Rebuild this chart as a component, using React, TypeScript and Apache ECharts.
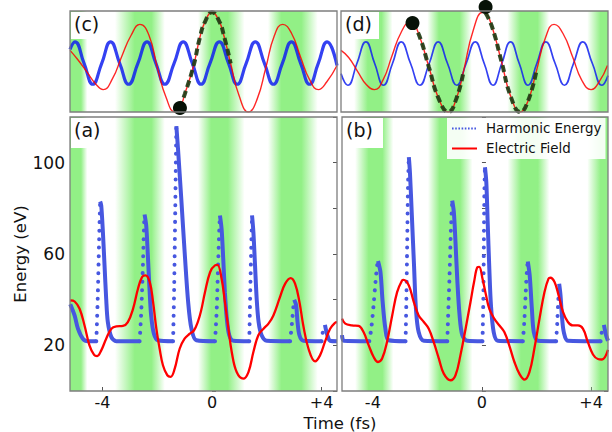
import React, { useEffect, useRef } from 'react';
import * as echarts from 'echarts';

type Pt = [number, number];

// ---------- axis ranges ----------
const timeRangeLeft: Pt = [-5.18, 4.56];
const timeRangeRight: Pt = [-5.13, 4.62];
const energyRange: Pt = [0, 120];
const topRange: Pt = [0, 100];
const timeTicks = [-4, 0, 4];
const energyLabelValues = [20, 60, 100];

// ---------- green bands: [start, fullStart, fullEnd, end] (fs) ----------
const bandsLeft: number[][] = [
  [-5.18, -5.18, -4.78, -4.55],
  [-3.54, -2.82, -2.21, -1.72],
  [-0.51, -0.03, 0.58, 1.19],
  [2.04, 2.53, 3.26, 3.86],
];
const bandsRight: number[][] = [
  [-4.65, -4.15, -3.65, -3.25],
  [-1.98, -1.55, -0.8, -0.35],
  [0.94, 1.43, 2.05, 2.47],
  [3.86, 4.35, 4.62, 4.62],
];

// ---------- panel (c) ----------
const blueC: Pt[] = [[-5.18,62],[-5.0,69.5],[-4.67,48.5],[-4.35,27.5],[-4.02,48.5],[-3.7,69.5],[-3.37,48.5],[-3.04,27.5],[-2.7,48.5],[-2.37,69.5],[-2.05,48.5],[-1.72,27.5],[-1.38,48.5],[-1.05,69.5],[-0.72,48.5],[-0.4,27.5],[-0.07,48.5],[0.27,69.5],[0.6,48.5],[0.92,27.5],[1.25,48.5],[1.58,69.5],[1.91,48.5],[2.24,27.5],[2.57,48.5],[2.9,69.5],[3.23,48.5],[3.56,27.5],[3.88,48.5],[4.2,69.5],[4.56,46]];
const redC: Pt[] = [[-5.18,61],[-4.9,52],[-4.57,40],[-4.25,28],[-3.97,22.2],[-3.63,33],[-3.3,54.5],[-2.95,76],[-2.63,86.8],[-2.3,76],[-1.99,43.4],[-1.67,14],[-1.35,0],[-1.17,4],[-0.99,18],[-0.68,45],[-0.44,74],[-0.26,89],[0,98.7],[0.26,90],[0.44,75],[0.68,48],[0.99,16],[1.33,0],[1.65,13],[1.96,43.4],[2.28,76],[2.58,86.8],[2.9,78],[3.23,54.5],[3.56,32],[3.88,22.2],[4.19,30],[4.56,46]];
const dashC: Pt[] = [[-1.17,4],[-0.99,18],[-0.68,45],[-0.44,74],[-0.26,89],[0,98.7],[0.26,90],[0.44,75],[0.68,48]];
const circlesC: Pt[] = [[-1.17,4]];

// ---------- panel (d) ----------
const blueD: Pt[] = [[-5.13,38],[-4.88,26.5],[-4.55,48],[-4.22,69.5],[-3.9,48],[-3.58,26.5],[-3.25,48],[-2.93,69.5],[-2.59,48],[-2.25,26.5],[-1.91,48],[-1.58,69.5],[-1.24,48],[-0.9,26.5],[-0.56,48],[-0.23,69.5],[0.1,48],[0.42,26.5],[0.74,48],[1.06,69.5],[1.38,48],[1.7,26.5],[2.02,48],[2.35,69.5],[2.69,48],[3.03,26.5],[3.36,48],[3.7,69.5],[4.05,48],[4.4,26.5],[4.62,36]];
const redD: Pt[] = [[-5.13,61],[-4.85,54],[-4.52,40],[-4.2,27],[-3.91,22.2],[-3.59,32],[-3.27,55.5],[-2.94,78.5],[-2.62,88.4],[-2.52,88],[-2.27,75.5],[-1.92,44.5],[-1.56,13],[-1.21,0],[-0.92,13],[-0.65,41],[-0.3,81],[0.05,98.7],[0.15,98],[0.39,84],[0.73,50],[1.08,14.5],[1.42,0],[1.7,11],[2.0,40],[2.33,73],[2.65,86.8],[2.99,77],[3.33,54.5],[3.66,31.6],[4.0,22.2],[4.3,30],[4.6,46]];
const dashD1: Pt[] = [[-2.52,88],[-2.27,75.5],[-1.92,44.5],[-1.56,13],[-1.21,0],[-0.92,13],[-0.65,41]];
const dashD2: Pt[] = [[0.15,98],[0.39,84],[0.73,50],[1.08,14.5],[1.42,0],[1.7,11],[2.0,40]];
const circlesD: Pt[] = [[-2.52,88],[0.15,104]];

// ---------- panel (a) ----------
const harmDenseA: Pt[][] = [
  [[-5.17,38],[-5.01,33],[-4.89,27.3],[-4.71,22.9],[-4.53,21.8],[-4.22,21.8]],
  [[-4.08,83],[-4.04,81.2],[-3.98,69.6],[-3.92,55],[-3.86,40.4],[-3.8,30.2],[-3.67,23.6],[-3.49,21.8],[-2.64,21.8]],
  [[-2.46,77.3],[-2.4,72.5],[-2.34,59.4],[-2.28,44.8],[-2.22,33.1],[-2.12,25.1],[-1.97,22.2],[-1.42,21.8]],
  [[-1.3,116],[-1.24,106],[-1.12,84],[-0.99,59.4],[-0.87,39],[-0.75,27.3],[-0.57,22.2],[0.11,21.8]],
  [[0.29,76.9],[0.35,71],[0.41,57.9],[0.47,43.3],[0.54,31.7],[0.63,24.4],[0.78,22],[1.36,21.8]],
  [[1.46,76.9],[1.51,69.6],[1.57,55],[1.63,40.4],[1.7,30.2],[1.81,24.4],[2.0,22],[2.85,21.8]],
  [[3.0,40],[3.07,37.5],[3.12,30.2],[3.19,24.4],[3.33,22],[4.0,21.8]],
  [[4.12,29],[4.21,24.4],[4.31,22],[4.56,21.8]],
];
const harmRiseA: Pt[][] = [
  [[-4.22,21.8],[-4.17,40],[-4.12,65],[-4.08,83]],
  [[-2.64,21.8],[-2.58,35],[-2.52,55],[-2.48,72],[-2.46,77.3]],
  [[-1.42,21.8],[-1.38,45],[-1.34,80],[-1.31,108],[-1.3,116]],
  [[0.11,21.8],[0.17,35],[0.23,58],[0.27,72],[0.29,76.9]],
  [[1.36,21.8],[1.39,40],[1.43,62],[1.46,76.9]],
  [[2.85,21.8],[2.92,30],[2.97,37],[3.0,40]],
  [[4.0,21.8],[4.06,27],[4.12,29]],
];
const fieldA: Pt[] = [[-5.17,39.7],[-5.01,39.2],[-4.83,36],[-4.65,28.7],[-4.47,20],[-4.3,15.8],[-4.19,15.3],[-4.04,17.8],[-3.86,22.9],[-3.67,27.3],[-3.49,28.3],[-3.25,28.5],[-3.07,30.2],[-2.88,36],[-2.7,44.8],[-2.55,49.9],[-2.43,50.6],[-2.27,47.7],[-2.15,39],[-2.03,27.3],[-1.91,18.5],[-1.79,11.3],[-1.63,6.9],[-1.51,6.2],[-1.36,9.8],[-1.18,18.5],[-1.0,22.9],[-0.81,25.1],[-0.66,26.5],[-0.51,30.5],[-0.4,35],[-0.26,43],[-0.07,52],[0.11,55],[0.2,55.2],[0.35,49.2],[0.47,39],[0.6,27.3],[0.72,17.1],[0.9,8.3],[1.14,5.4],[1.33,8.3],[1.51,17.1],[1.69,24.4],[1.88,27.3],[2.06,29.5],[2.24,33.1],[2.48,41.1],[2.67,47],[2.87,49.4],[3.03,47],[3.19,39],[3.33,28.7],[3.52,18.5],[3.76,13],[3.94,15.6],[4.12,21.5],[4.31,27.3],[4.49,29.9],[4.56,30.2]];

// ---------- panel (b) ----------
const harmDenseB: Pt[][] = [
  [[-5.13,24.5],[-5.06,22],[-4.13,21.8]],
  [[-3.81,56.9],[-3.72,52],[-3.64,39],[-3.54,27.3],[-3.42,22.2],[-2.8,21.8]],
  [[-2.68,102.4],[-2.64,95.8],[-2.57,76.9],[-2.49,55],[-2.42,36],[-2.32,25.8],[-2.13,22],[-1.27,21.8]],
  [[-1.09,83.4],[-1.03,78.3],[-0.97,65.2],[-0.9,47.7],[-0.82,33.1],[-0.72,24.4],[-0.54,22],[0.02,21.8]],
  [[0.11,98],[0.16,91.4],[0.21,73.9],[0.27,53.5],[0.33,37.5],[0.43,25.8],[0.58,22],[1.5,21.8]],
  [[1.68,56.7],[1.75,50.6],[1.83,36],[1.9,25.8],[2.05,22],[2.72,21.8]],
  [[2.83,47],[2.88,41.9],[2.93,33.1],[3.0,25.8],[3.15,22],[4.35,21.8]],
  [[4.47,29],[4.55,24.4],[4.62,22]],
];
const harmRiseB: Pt[][] = [
  [[-4.13,21.8],[-4.05,28],[-3.97,38],[-3.9,48],[-3.84,55],[-3.81,56.9]],
  [[-2.8,21.8],[-2.77,40],[-2.74,65],[-2.71,90],[-2.68,102.4]],
  [[-1.27,21.8],[-1.24,33],[-1.19,50],[-1.14,70],[-1.09,83.4]],
  [[0.02,21.8],[0.05,40],[0.07,65],[0.09,88],[0.11,98]],
  [[1.5,21.8],[1.55,30],[1.6,42],[1.65,53],[1.68,56.7]],
  [[2.72,21.8],[2.76,30],[2.8,40],[2.83,47]],
  [[4.35,21.8],[4.41,27],[4.47,29]],
];
const fieldB: Pt[] = [[-5.13,31.7],[-5.01,29.5],[-4.77,28.7],[-4.52,28.5],[-4.34,25.8],[-4.15,20],[-3.97,14.9],[-3.81,12.7],[-3.66,14.2],[-3.48,21.5],[-3.29,33.1],[-3.11,43.3],[-2.93,48.4],[-2.87,48.7],[-2.68,46.2],[-2.5,39],[-2.32,33.1],[-2.13,30.2],[-1.95,27.3],[-1.77,21.5],[-1.58,14.2],[-1.4,7.6],[-1.15,4.7],[-0.97,6.9],[-0.79,15.6],[-0.6,27.3],[-0.42,39],[-0.29,47.7],[-0.16,54.3],[-0.1,54.4],[0.02,49.2],[0.15,41.9],[0.27,36],[0.45,31.7],[0.64,28.7],[0.82,25.8],[1.0,20],[1.19,12.7],[1.37,7.6],[1.56,5],[1.74,8.3],[1.92,18.5],[2.11,31.7],[2.29,43.3],[2.44,49.2],[2.51,49.6],[2.66,47.7],[2.81,41.9],[2.97,34.6],[3.15,30.2],[3.33,28.7],[3.52,28.7],[3.7,27.3],[3.88,21.5],[4.07,16],[4.25,14],[4.4,13.8],[4.62,18]];

// ---------- layout & style ----------
const FONT = '"DejaVu Sans", sans-serif';
const gridC = { left: 70, top: 11, width: 267, height: 101 };
const gridD = { left: 341, top: 11, width: 267, height: 101 };
const gridA = { left: 70, top: 117, width: 267, height: 274 };
const gridB = { left: 342, top: 117, width: 266, height: 274 };
const GREEN = [146, 240, 134];
const BLUE_H = '#4757e0';
const BLUE_T = '#1020f0';
const RED = '#ff0000';
const DASH = '#1f3d16';

function flatten(segs: Pt[][]): (number | null)[][] {
  const out: (number | null)[][] = [];
  segs.forEach((s, i) => {
    if (i > 0) out.push([s[0][0], null]);
    s.forEach((p) => out.push(p));
  });
  return out;
}

function bandArea(bands: number[][]) {
  const full = `rgba(${GREEN[0]},${GREEN[1]},${GREEN[2]},1)`;
  const clear = `rgba(${GREEN[0]},${GREEN[1]},${GREEN[2]},0)`;
  return {
    silent: true,
    data: bands.map((b) => {
      const w = b[3] - b[0];
      const f1 = (b[1] - b[0]) / w;
      const f2 = (b[2] - b[0]) / w;
      return [
        {
          xAxis: b[0],
          itemStyle: {
            opacity: 1,
            color: new echarts.graphic.LinearGradient(0, 0, 1, 0, [
              { offset: 0, color: f1 === 0 ? full : clear },
              { offset: f1, color: full },
              { offset: f2, color: full },
              { offset: 1, color: f2 === 1 ? full : clear },
            ]),
          },
        },
        { xAxis: b[3] },
      ];
    }),
  };
}

function timeAxis(grid: number, range: Pt, shown: boolean) {
  return {
    type: 'value',
    gridIndex: grid,
    min: range[0],
    max: range[1],
    show: shown,
    axisLine: { show: false },
    splitLine: { show: false },
    axisTick: { show: shown, inside: true, length: 4, customValues: timeTicks, lineStyle: { color: '#555', width: 1 } },
    axisLabel: {
      show: shown,
      customValues: timeTicks,
      formatter: (v: number) => (v > 0 ? '+' + v : String(v)),
      fontSize: 16,
      fontFamily: FONT,
      color: '#111',
      margin: 3,
    },
  };
}

function energyAxis(grid: number, position: string, labels: boolean, withName: boolean) {
  return {
    type: 'value',
    gridIndex: grid,
    position,
    min: energyRange[0],
    max: energyRange[1],
    interval: 20,
    axisLine: { show: false },
    splitLine: { show: false },
    axisTick: { inside: true, length: 4, lineStyle: { color: '#555', width: 1 } },
    axisLabel: {
      show: labels,
      formatter: (v: number) => (energyLabelValues.includes(v) ? String(v) : ''),
      fontSize: 17,
      fontFamily: FONT,
      color: '#111',
      margin: 5,
    },
    name: withName ? 'Energy (eV)' : '',
    nameLocation: 'middle',
    nameGap: 35,
    nameTextStyle: { fontSize: 16.5, fontFamily: FONT, color: '#111' },
  };
}

function topSeries(xi: number, blue: Pt[], red: Pt[], dashes: Pt[][], circles: Pt[], bands: number[][], blueWidth: number) {
  const s: any[] = [
    {
      type: 'line', xAxisIndex: xi, yAxisIndex: xi, data: blue, smooth: 0.5, symbol: 'none', silent: true,
      lineStyle: { color: BLUE_T, width: blueWidth, opacity: 0.85 }, z: 3,
    },
    {
      type: 'line', xAxisIndex: xi, yAxisIndex: xi, data: red, smooth: 0.5, symbol: 'none', silent: true,
      lineStyle: { color: RED, width: 1.4, opacity: 0.85 }, z: 4, markArea: bandArea(bands),
    },
  ];
  dashes.forEach((d) => s.push({
    type: 'line', xAxisIndex: xi, yAxisIndex: xi, data: d, smooth: 0.5, symbol: 'none', silent: true,
    lineStyle: { color: DASH, width: 4, type: [7, 4], opacity: 0.92 }, z: 5,
  }));
  s.push({
    type: 'scatter', xAxisIndex: xi, yAxisIndex: xi, data: circles, symbolSize: 14, silent: true, clip: false,
    itemStyle: { color: '#071207', opacity: 1 }, z: 6,
  });
  return s;
}

function bottomSeries(xi: number, yi: number, dense: Pt[][], rise: Pt[][], field: Pt[], bands: number[][]) {
  return [
    {
      name: 'Harmonic Energy', type: 'line', xAxisIndex: xi, yAxisIndex: yi, data: flatten(dense),
      smooth: 0.3, symbol: 'none', connectNulls: false, silent: true,
      lineStyle: { color: BLUE_H, width: 4 }, z: 3,
    },
    {
      name: 'Harmonic Energy', type: 'line', xAxisIndex: xi, yAxisIndex: yi, data: flatten(rise),
      smooth: 0.3, symbol: 'none', connectNulls: false, silent: true,
      lineStyle: { color: BLUE_H, width: 4, type: [0.01, 8.5], cap: 'round' }, z: 3,
    },
    {
      name: 'Electric Field', type: 'line', xAxisIndex: xi, yAxisIndex: yi, data: field,
      smooth: 0.4, symbol: 'none', silent: true,
      lineStyle: { color: RED, width: 2.3 }, z: 4, markArea: bandArea(bands),
    },
  ];
}

function frame(g: { left: number; top: number; width: number; height: number }) {
  return {
    type: 'rect', silent: true, z: 100,
    shape: { x: g.left, y: g.top, width: g.width, height: g.height },
    style: { fill: 'none', stroke: '#7d7d7d', lineWidth: 1.3 },
  };
}

function panelLabel(text: string, g: { left: number; top: number }, w: number, h: number) {
  return [
    {
      type: 'rect', silent: true, z: 101,
      shape: { x: g.left + 1, y: g.top + 1, width: w, height: h },
      style: { fill: '#ffffff', stroke: 'none' },
    },
    {
      type: 'text', silent: true, z: 102, x: g.left + 4, y: g.top + 3,
      style: { text, font: `19px ${FONT}`, fill: '#111', align: 'left', verticalAlign: 'top', textAlign: 'left', textVerticalAlign: 'top' },
    },
  ];
}

export default function App() {
  const ref = useRef<HTMLDivElement>(null);
  useEffect(() => {
    if (!ref.current) return;
    const chart = echarts.init(ref.current, undefined, { renderer: 'svg' });
    const option: any = {
      animation: false,
      backgroundColor: '#ffffff',
      grid: [gridC, gridD, gridA, gridB].map((g) => ({ ...g, show: false })),
      xAxis: [
        timeAxis(0, timeRangeLeft, false),
        timeAxis(1, timeRangeRight, false),
        timeAxis(2, timeRangeLeft, true),
        timeAxis(3, timeRangeRight, true),
      ],
      yAxis: [
        { type: 'value', gridIndex: 0, min: topRange[0], max: topRange[1], show: false, splitLine: { show: false } },
        { type: 'value', gridIndex: 1, min: topRange[0], max: topRange[1], show: false, splitLine: { show: false } },
        energyAxis(2, 'left', true, true),
        energyAxis(2, 'right', false, false),
        energyAxis(3, 'left', false, false),
        energyAxis(3, 'right', false, false),
      ],
      legend: {
        orient: 'vertical', left: 447, top: 118, itemWidth: 25, itemHeight: 14, itemGap: 7,
        backgroundColor: 'rgba(255,255,255,0.9)', borderWidth: 0, padding: [4, 4, 4, 4],
        selectedMode: false, z: 50,
        textStyle: { fontSize: 13.4, fontFamily: FONT, color: '#111', padding: [0, 0, 0, 4] },
        data: [
          { name: 'Harmonic Energy', itemStyle: { opacity: 0 }, lineStyle: { color: BLUE_H, width: 2, type: [1.6, 1.6] } },
          { name: 'Electric Field', itemStyle: { opacity: 0 }, lineStyle: { color: RED, width: 2 } },
        ],
      },
      series: [
        ...topSeries(0, blueC, redC, [dashC], circlesC, bandsLeft, 3.2),
        ...topSeries(1, blueD, redD, [dashD1, dashD2], circlesD, bandsRight, 1.7),
        ...bottomSeries(2, 2, harmDenseA, harmRiseA, fieldA, bandsLeft),
        ...bottomSeries(3, 4, harmDenseB, harmRiseB, fieldB, bandsRight),
      ],
      graphic: [
        frame(gridC), frame(gridD), frame(gridA), frame(gridB),
        ...panelLabel('(c)', gridC, 33, 27),
        ...panelLabel('(d)', gridD, 37, 27),
        ...panelLabel('(a)', gridA, 40, 30),
        ...panelLabel('(b)', gridB, 40, 30),
        {
          type: 'text', silent: true, z: 102, x: 340, y: 423,
          style: { text: 'Time (fs)', font: `16.5px ${FONT}`, fill: '#111', align: 'center', verticalAlign: 'middle', textAlign: 'center', textVerticalAlign: 'middle' },
        },
      ],
    };
    chart.setOption(option);
    return () => chart.dispose();
  }, []);
  return <div ref={ref} style={{ position: 'fixed', left: 0, top: 0, width: 612, height: 432 }} />;
}
